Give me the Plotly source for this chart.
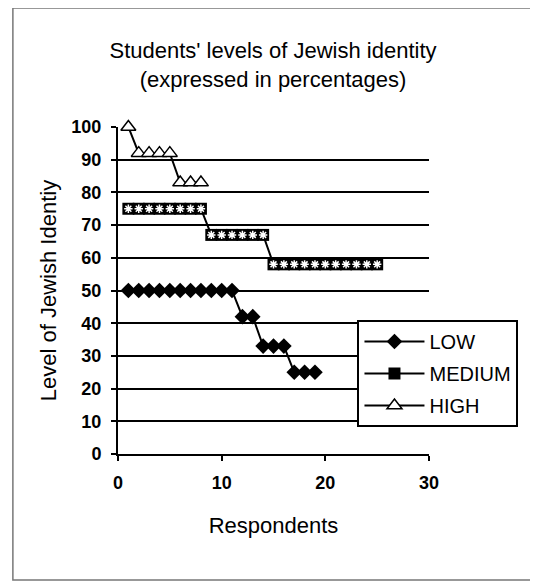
import plotly.graph_objects as go

low_x = list(range(1, 20))
low_y = [50]*11 + [42]*2 + [33]*3 + [25]*3
med_x = list(range(1, 26))
med_y = [75]*8 + [67]*6 + [58]*11
high_x = list(range(1, 9))
high_y = [100] + [92]*4 + [83]*3

x_ticks = [0, 10, 20, 30]
y_ticks = [0, 10, 20, 30, 40, 50, 60, 70, 80, 90, 100]

FONT = "Liberation Sans, Arial, sans-serif"

fig = go.Figure()
fig.add_trace(go.Scatter(x=low_x, y=low_y, mode="lines+markers", name="LOW",
                         legendgroup="low",
                         line=dict(color="black", width=2), cliponaxis=False,
                         marker=dict(symbol="diamond", size=12, color="black")))
fig.add_trace(go.Scatter(x=med_x, y=med_y, mode="lines+markers", name="MEDIUM",
                         legendgroup="med",
                         line=dict(color="black", width=2), cliponaxis=False,
                         marker=dict(symbol="square", size=12, color="black")))
fig.add_trace(go.Scatter(x=med_x, y=med_y, mode="markers", showlegend=False,
                         hoverinfo="skip", cliponaxis=False, legendgroup="med",
                         marker=dict(symbol="asterisk-open", size=7, color="white",
                                     line=dict(color="white", width=1.5))))
fig.add_trace(go.Scatter(x=high_x, y=high_y, mode="lines+markers", name="HIGH",
                         legendgroup="high",
                         line=dict(color="black", width=2), cliponaxis=False,
                         marker=dict(symbol="triangle-up", size=13, color="white",
                                     line=dict(color="black", width=1.5))))

W, H = 530, 577
L, T = 110, 119
PW, PH = 311, 327

fig.update_layout(
    width=W, height=H,
    margin=dict(l=L, r=W - L - PW, t=T, b=H - T - PH),
    paper_bgcolor="white", plot_bgcolor="white",
    font=dict(family=FONT, color="black"),
    title=dict(text="Students' levels of Jewish identity<br>(expressed in percentages)",
               x=0.5, xref="container", xanchor="center",
               y=0.913, yref="container", yanchor="middle",
               font=dict(size=22, family=FONT)),
    xaxis=dict(range=[0, 30], tickvals=x_ticks, showgrid=False, zeroline=False,
               showline=True, linecolor="black", linewidth=2,
               ticks="outside", ticklen=5, tickwidth=2, tickcolor="black",
               ticklabelstandoff=6,
               tickfont=dict(size=18, family=FONT, weight="bold"),
               title=dict(text="Respondents", font=dict(size=22, family=FONT), standoff=26)),
    yaxis=dict(range=[0, 100], tickvals=y_ticks, showgrid=True, gridcolor="black",
               gridwidth=2, zeroline=False,
               showline=True, linecolor="black", linewidth=2,
               ticks="outside", ticklen=5, tickwidth=2, tickcolor="black",
               ticklabelstandoff=6,
               tickfont=dict(size=18, family=FONT, weight="bold"),
               title=dict(text="Level of Jewish Identiy", font=dict(size=22, family=FONT), standoff=9)),
    legend=dict(x=0.77, y=0.41, xanchor="left", yanchor="top",
                bgcolor="white", bordercolor="black", borderwidth=2,
                font=dict(size=20, family=FONT), itemwidth=60,
                tracegroupgap=3),
    showlegend=True,
)

fig.add_shape(type="rect", xref="paper", yref="paper",
              x0=-0.338, x1=1.344, y0=-0.385, y1=1.364,
              line=dict(color="#777", width=1.5), layer="below")

fig.write_html("out.html")
